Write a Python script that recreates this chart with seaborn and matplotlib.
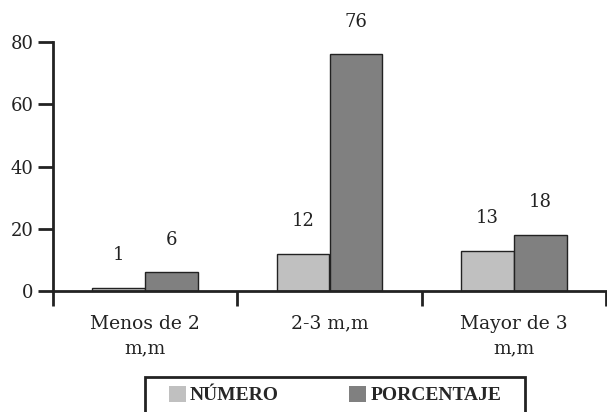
import pandas as pd
import matplotlib
matplotlib.use("Agg")
import matplotlib.pyplot as plt
import seaborn as sns
from matplotlib.patches import Rectangle

# datos
categorias = ["Menos de 2\nm,m", "2-3 m,m", "Mayor de 3\nm,m"]
numero = [1, 12, 13]
porcentaje = [6, 76, 18]
series = ["NÚMERO", "PORCENTAJE"]

df = pd.DataFrame({
    "categoria": categorias * 2,
    "serie": [series[0]] * 3 + [series[1]] * 3,
    "valor": numero + porcentaje,
})

sns.set_style("white")
plt.rcParams["font.family"] = ["DejaVu Serif"]

fig = plt.figure(figsize=(6.07, 4.12), dpi=100)
ax = fig.add_axes([53 / 607, 121 / 412, 553 / 607, 249 / 412])

sns.barplot(data=df, x="categoria", y="valor", hue="serie",
            palette=["#c0c0c0", "#808080"], width=0.575,
            edgecolor="#222222", linewidth=1.0, ax=ax, legend=False)

for cont in ax.containers:
    ax.bar_label(cont, padding=17, fontsize=13, color="#222222")

ax.set_xlim(-0.5, 2.5)
ax.set_ylim(0, 80)
ax.set_yticks([0, 20, 40, 60, 80])
ax.set_xticks([-0.5, 0.5, 1.5, 2.5])
ax.set_xticklabels([])
ax.set_xticks([0, 1, 2], minor=True)
ax.set_xticklabels(categorias, minor=True, fontsize=13.5, color="#222222",
                   linespacing=1.5)
ax.tick_params(axis="x", which="major", direction="out", length=11,
               width=2, color="#222222", bottom=True)
ax.tick_params(axis="x", which="minor", length=0, pad=17)
ax.tick_params(axis="y", direction="out", length=11, width=2,
               color="#222222", left=True, labelsize=13, labelcolor="#222222", pad=3)
ax.set_xlabel("")
ax.set_ylabel("")
for s in ["top", "right"]:
    ax.spines[s].set_visible(False)
for s in ["left", "bottom"]:
    ax.spines[s].set_linewidth(2)
    ax.spines[s].set_color("#222222")
for t in ax.texts:
    t.set_clip_on(False)

# leyenda
handles = [Rectangle((0, 0), 1, 1, facecolor=c, edgecolor="none")
           for c in ["#c0c0c0", "#808080"]]
fig.legend(handles, series, loc="center left", bbox_to_anchor=(151 / 607, 1 - 395 / 412),
           ncol=2, frameon=False, handlelength=0.9, handleheight=0.9,
           handletextpad=0.2, columnspacing=3.6,
           prop={"family": "Liberation Serif", "weight": "bold", "size": 14})
fig.patches.append(Rectangle((145 / 607, -0.02), 380 / 607, (412 - 377) / 412 + 0.02,
                             transform=fig.transFigure, fill=False,
                             edgecolor="#222222", linewidth=2))

fig.savefig("out.png", dpi=100)
